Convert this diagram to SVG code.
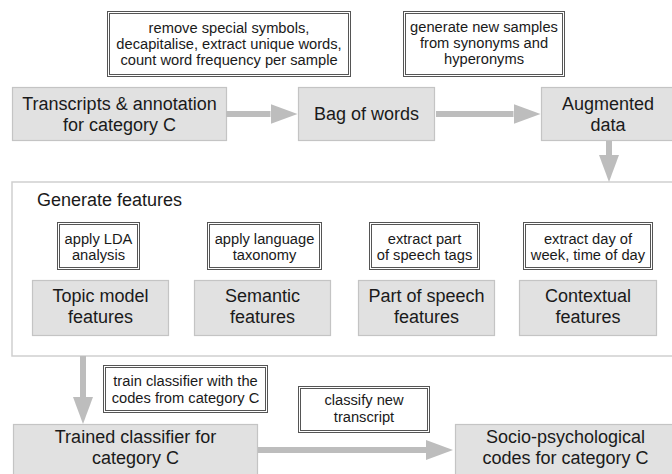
<svg xmlns="http://www.w3.org/2000/svg" width="672" height="474" viewBox="0 0 672 474">
<style>
.node{fill:#e1e1e1;stroke:#c4c4c4;stroke-width:1.2}
.note{fill:#fff;stroke:#555;stroke-width:1}
.frame{fill:#fff;stroke:#cfcfcf;stroke-width:1.5}
.big{font-family:"Liberation Sans",Arial,sans-serif;font-size:18px;fill:#1a1a1a;text-anchor:middle}
.small{font-family:"Liberation Sans",Arial,sans-serif;font-size:14.7px;fill:#1a1a1a;text-anchor:middle}
.title{font-family:"Liberation Sans",Arial,sans-serif;font-size:18px;fill:#1a1a1a}
.conn{stroke:#bdbdbd;stroke-width:6;fill:none}
</style>
<defs>
<marker id="ah" markerUnits="userSpaceOnUse" markerWidth="28" markerHeight="20" viewBox="0 0 28 20" refX="0" refY="10" orient="auto">
<path d="M0,0 L27,10 L0,20 z" fill="#bdbdbd"/>
</marker>
</defs>

<g id="frame">
<rect class="frame" x="12" y="182" width="664" height="174"/>
<text class="title" x="37" y="205.5">Generate features</text>
</g>

<g id="note-preprocess">
<rect class="note" x="107.5" y="11.5" width="243" height="65"/>
<rect class="note" x="109.5" y="13.5" width="239" height="61"/>
<text class="small" x="229" y="32.5">remove special symbols,</text>
<text class="small" x="229" y="48.5">decapitalise, extract unique words,</text>
<text class="small" x="229" y="64.5">count word frequency per sample</text>
</g>

<g id="note-augment">
<rect class="note" x="403.5" y="11.5" width="161" height="65"/>
<rect class="note" x="405.5" y="13.5" width="157" height="61"/>
<text class="small" x="484" y="32">generate new samples</text>
<text class="small" x="484" y="48">from synonyms and</text>
<text class="small" x="484" y="64">hyperonyms</text>
</g>

<g id="transcripts">
<rect class="node" x="12.5" y="87.5" width="214" height="53"/>
<text class="big" x="119.5" y="110">Transcripts &amp; annotation</text>
<text class="big" x="119.5" y="131">for category C</text>
</g>

<g id="bag">
<rect class="node" x="298.5" y="87.5" width="136" height="53"/>
<text class="big" x="366.5" y="120">Bag of words</text>
</g>

<g id="augmented">
<rect class="node" x="541.5" y="87.5" width="135" height="53"/>
<text class="big" x="608" y="110">Augmented</text>
<text class="big" x="608" y="131">data</text>
</g>

<g id="note-lda">
<rect class="note" x="57.5" y="222.5" width="82" height="47"/>
<rect class="note" x="59.5" y="224.5" width="78" height="43"/>
<text class="small" x="98.5" y="243.5">apply LDA</text>
<text class="small" x="98.5" y="259.5">analysis</text>
</g>

<g id="note-taxonomy">
<rect class="note" x="207.5" y="222.5" width="114" height="47"/>
<rect class="note" x="209.5" y="224.5" width="110" height="43"/>
<text class="small" x="264.5" y="243.5">apply language</text>
<text class="small" x="264.5" y="259.5">taxonomy</text>
</g>

<g id="note-pos">
<rect class="note" x="369.5" y="222.5" width="110" height="47"/>
<rect class="note" x="371.5" y="224.5" width="106" height="43"/>
<text class="small" x="424.5" y="243.5">extract part</text>
<text class="small" x="424.5" y="259.5">of speech tags</text>
</g>

<g id="note-context">
<rect class="note" x="523.5" y="222.5" width="129" height="47"/>
<rect class="note" x="525.5" y="224.5" width="125" height="43"/>
<text class="small" x="588" y="243.5">extract day of</text>
<text class="small" x="588" y="259.5">week, time of day</text>
</g>

<g id="topic">
<rect class="node" x="32.5" y="280.5" width="136" height="55"/>
<text class="big" x="100.5" y="302">Topic model</text>
<text class="big" x="100.5" y="323">features</text>
</g>

<g id="semantic">
<rect class="node" x="194.5" y="280.5" width="136" height="55"/>
<text class="big" x="262.5" y="302">Semantic</text>
<text class="big" x="262.5" y="323">features</text>
</g>

<g id="pos">
<rect class="node" x="358.5" y="280.5" width="136" height="55"/>
<text class="big" x="426.5" y="302">Part of speech</text>
<text class="big" x="426.5" y="323">features</text>
</g>

<g id="contextual">
<rect class="node" x="519.5" y="280.5" width="137" height="55"/>
<text class="big" x="588" y="302">Contextual</text>
<text class="big" x="588" y="323">features</text>
</g>

<g id="note-train">
<rect class="note" x="103.5" y="365.5" width="164" height="47"/>
<rect class="note" x="105.5" y="367.5" width="160" height="43"/>
<text class="small" x="185.5" y="386">train classifier with the</text>
<text class="small" x="185.5" y="402.5">codes from category C</text>
</g>

<g id="note-classify">
<rect class="note" x="298.5" y="386.5" width="131" height="46"/>
<rect class="note" x="300.5" y="388.5" width="127" height="42"/>
<text class="small" x="364" y="405">classify new</text>
<text class="small" x="364" y="421.5">transcript</text>
</g>

<g id="trained">
<rect class="node" x="13.5" y="424.5" width="244" height="60"/>
<text class="big" x="135.5" y="443">Trained classifier for</text>
<text class="big" x="135.5" y="464">category C</text>
</g>

<g id="socio">
<rect class="node" x="455.5" y="424.5" width="221" height="60"/>
<text class="big" x="565.5" y="443">Socio-psychological</text>
<text class="big" x="565.5" y="464">codes for category C</text>
</g>

<g id="connectors">
<path class="conn" d="M226,114 H270.5" marker-end="url(#ah)"/>
<path class="conn" d="M436,114 H513.5" marker-end="url(#ah)"/>
<path class="conn" d="M609,141 V155" marker-end="url(#ah)"/>
<path class="conn" d="M83,356 V397" marker-end="url(#ah)"/>
<path class="conn" d="M258,450 H426" marker-end="url(#ah)"/>
</g>
</svg>
